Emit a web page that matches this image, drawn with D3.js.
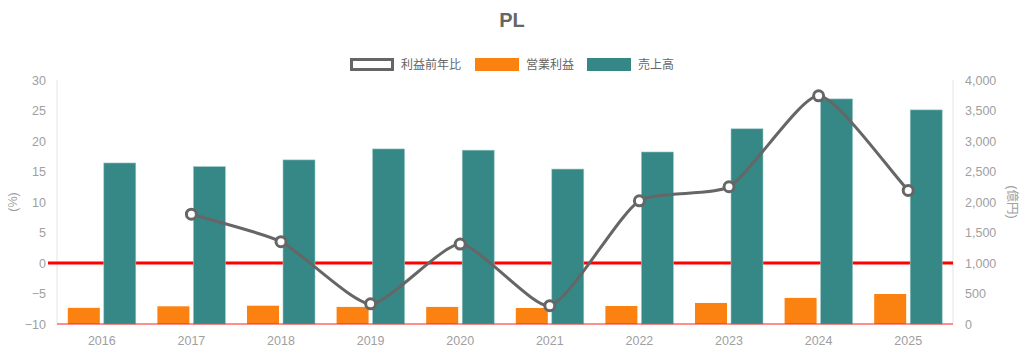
<!DOCTYPE html>
<html>
<head>
<meta charset="utf-8">
<script src="https://cdn.jsdelivr.net/npm/d3@7"></script>
<style>
  body { margin: 0; background: #fff; }
  svg text { font-family: "Liberation Sans", Arial, "Noto Sans CJK JP", sans-serif; }
</style>
</head>
<body>
<div id="chart"></div>
<script>
// data
var years = ["2016","2017","2018","2019","2020","2021","2022","2023","2024","2025"];
var sales = [2640, 2580, 2690, 2870, 2850, 2540, 2820, 3200, 3690, 3510];   // 売上高 (億円)
var opProfit = [265, 290, 300, 280, 280, 262, 295, 345, 428, 492];         // 営業利益 (億円)
var profitYoY = [null, 8.0, 3.5, -6.7, 3.1, -7.0, 10.2, 12.5, 27.4, 11.9]; // 利益前年比 (%)
var leftTicks = [-10, -5, 0, 5, 10, 15, 20, 25, 30];
var rightTicks = [0, 500, 1000, 1500, 2000, 2500, 3000, 3500, 4000];

var W = 1024, H = 355;
var margin = {top: 80, right: 71, bottom: 31, left: 57},
    width = W - margin.left - margin.right,
    height = H - margin.top - margin.bottom;

var svg = d3.select("#chart").append("svg")
    .attr("width", W).attr("height", H);

var g = svg.append("g")
    .attr("transform", `translate(${margin.left},${margin.top})`);

var x = d3.scaleBand().domain(years).range([0, width]).paddingInner(0).paddingOuter(0);
var yL = d3.scaleLinear().domain([-10, 30]).range([height, 0]);
var yR = d3.scaleLinear().domain([0, 4000]).range([height, 0]);

var orange = "#fb8211", teal = "#358886", grey = "#666666", tickCol = "#a0a0a0";

// title
svg.append("text")
  .attr("x", W / 2).attr("y", 27)
  .attr("text-anchor", "middle")
  .style("font-size", "20px").style("font-weight", "bold")
  .style("fill", grey)
  .text("PL");

// legend
var legend = [
  {label: "利益前年比", type: "line"},
  {label: "営業利益", type: "bar", color: orange},
  {label: "売上高", type: "bar", color: teal}
];
var lx = [350, 475, 587];
legend.forEach(function(d, i) {
  var lg = svg.append("g").attr("transform", `translate(${lx[i]},58)`);
  if (d.type === "line") {
    lg.append("rect").attr("x", 1.5).attr("y", 1.5).attr("width", 41).attr("height", 10)
      .style("fill", "#fff").style("stroke", grey).style("stroke-width", 3);
  } else {
    lg.append("rect").attr("width", 44).attr("height", 13).style("fill", d.color);
  }
  lg.append("text").attr("x", 51).attr("y", 6.5)
    .attr("dominant-baseline", "central")
    .style("font-size", "12px").style("fill", grey)
    .text(d.label);
});

// axis lines
g.append("line").attr("x1", 0).attr("x2", 0).attr("y1", 0).attr("y2", height)
  .style("stroke", "#e4e4e4");
g.append("line").attr("x1", width).attr("x2", width).attr("y1", 0).attr("y2", height)
  .style("stroke", "#e4e4e4");

// zero line (red)
g.append("line").attr("x1", -9).attr("x2", width).attr("y1", yL(0)).attr("y2", yL(0))
  .style("stroke", "#ff0000").style("stroke-width", 3);

// bars
var barW = 32, gap = 4;
g.selectAll(".op").data(years).join("rect")
  .attr("class", "op")
  .attr("x", function(d) { return x(d) + x.bandwidth() / 2 - gap / 2 - barW; })
  .attr("width", barW)
  .attr("y", function(d, i) { return yR(opProfit[i]); })
  .attr("height", function(d, i) { return yR(0) - yR(opProfit[i]); })
  .style("fill", orange);

g.selectAll(".sales").data(years).join("rect")
  .attr("class", "sales")
  .attr("x", function(d) { return x(d) + x.bandwidth() / 2 + gap / 2; })
  .attr("width", barW)
  .attr("y", function(d, i) { return yR(sales[i]); })
  .attr("height", function(d, i) { return yR(0) - yR(sales[i]); })
  .style("fill", teal)
  .style("stroke", "#9cc7c6").style("stroke-width", 0.6);

g.append("line").attr("x1", 0).attr("x2", width).attr("y1", height).attr("y2", height)
  .style("stroke", "#ff2020").style("stroke-width", 1.2);

// left axis
var leftAxis = g.append("g")
  .call(d3.axisLeft(yL).tickValues(leftTicks).tickSize(0).tickPadding(11));
leftAxis.select(".domain").remove();
leftAxis.selectAll("text").style("font-size", "12.5px").style("fill", tickCol)
  .style("font-family", "'Liberation Sans', Arial, sans-serif");

// right axis
var rightAxis = g.append("g").attr("transform", `translate(${width},0)`)
  .call(d3.axisRight(yR).tickValues(rightTicks).tickSize(0).tickPadding(12)
    .tickFormat(d3.format(",")));
rightAxis.select(".domain").remove();
rightAxis.selectAll("text").style("font-size", "12.5px").style("fill", tickCol)
  .style("font-family", "'Liberation Sans', Arial, sans-serif");

// bottom axis
var bottomAxis = g.append("g").attr("transform", `translate(0,${height})`)
  .call(d3.axisBottom(x).tickSize(0).tickPadding(12));
bottomAxis.select(".domain").remove();
bottomAxis.selectAll("text").style("font-size", "12.5px").style("fill", tickCol)
  .style("font-family", "'Liberation Sans', Arial, sans-serif");

// axis titles
svg.append("text")
  .attr("transform", `translate(13,${margin.top + height / 2}) rotate(-90)`)
  .attr("text-anchor", "middle").attr("dominant-baseline", "central")
  .style("font-size", "12.5px").style("fill", tickCol)
  .text("(%)");
svg.append("text")
  .attr("transform", `translate(1012,${margin.top + height / 2}) rotate(90)`)
  .attr("text-anchor", "middle").attr("dominant-baseline", "central")
  .style("font-size", "12.5px").style("fill", tickCol)
  .text("(億円)");

// spline like chart.js, low tension
function TensionCurve(context) { this._context = context; }
TensionCurve.prototype = {
  areaStart: function() {}, areaEnd: function() {},
  lineStart: function() { this._pts = []; },
  point: function(px, py) { this._pts.push([px, py]); },
  lineEnd: function() {
    var p = this._pts, c = this._context, t = 0.2, cps = [];
    for (var i = 0; i < p.length; i++) {
      var prev = p[Math.max(i - 1, 0)], cur = p[i], next = p[Math.min(i + 1, p.length - 1)];
      var d01 = Math.hypot(cur[0] - prev[0], cur[1] - prev[1]);
      var d12 = Math.hypot(next[0] - cur[0], next[1] - cur[1]);
      var s01 = d01 / (d01 + d12 || 1), s12 = d12 / (d01 + d12 || 1);
      var fa = t * s01, fb = t * s12;
      cps.push({
        px: cur[0] - fa * (next[0] - prev[0]), py: cur[1] - fa * (next[1] - prev[1]),
        nx: cur[0] + fb * (next[0] - prev[0]), ny: cur[1] + fb * (next[1] - prev[1])
      });
    }
    c.moveTo(p[0][0], p[0][1]);
    for (var j = 1; j < p.length; j++) {
      c.bezierCurveTo(cps[j - 1].nx, cps[j - 1].ny, cps[j].px, cps[j].py, p[j][0], p[j][1]);
    }
  }
};
function curveTension(context) { return new TensionCurve(context); }

// line
var pts = years.map(function(d, i) { return {year: d, v: profitYoY[i]}; })
  .filter(function(d) { return d.v !== null; });

var line = d3.line()
  .x(function(d) { return x(d.year) + x.bandwidth() / 2; })
  .y(function(d) { return yL(d.v); })
  .curve(curveTension);

g.append("path").datum(pts)
  .attr("d", line)
  .style("fill", "none").style("stroke", grey).style("stroke-width", 3);

g.selectAll(".dot").data(pts).join("circle")
  .attr("class", "dot")
  .attr("cx", function(d) { return x(d.year) + x.bandwidth() / 2; })
  .attr("cy", function(d) { return yL(d.v); })
  .attr("r", 5)
  .style("fill", "#fff").style("stroke", grey).style("stroke-width", 3);
</script>
</body>
</html>
